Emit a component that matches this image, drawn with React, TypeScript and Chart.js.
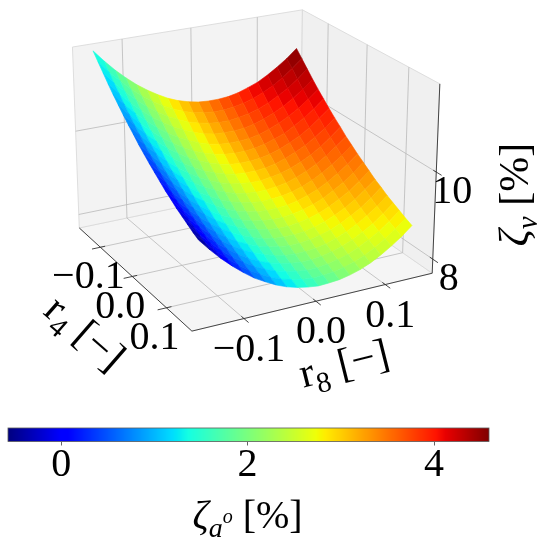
import React, { useEffect, useRef } from "react";
import { Chart, registerables } from "chart.js";

Chart.register(...registerables);

// ---------------- data ----------------
const R4 = [-0.15, -0.135, -0.12, -0.105, -0.09, -0.075, -0.06, -0.045, -0.03, -0.015, 0, 0.015, 0.03, 0.045, 0.06, 0.075, 0.09, 0.105, 0.12, 0.135, 0.15];
const R8 = [-0.15, -0.135, -0.12, -0.105, -0.09, -0.075, -0.06, -0.045, -0.03, -0.015, 0, 0.015, 0.03, 0.045, 0.06, 0.075, 0.09, 0.105, 0.12, 0.135, 0.15];

// zeta_v [%]  (rows: r4, columns: r8)
const ZETA_V = [
  [11.91, 11.64, 11.39, 11.17, 10.97, 10.8, 10.65, 10.52, 10.42, 10.35, 10.3, 10.28, 10.28, 10.3, 10.35, 10.43, 10.52, 10.65, 10.8, 10.97, 11.17],
  [11.74, 11.46, 11.22, 10.99, 10.79, 10.62, 10.47, 10.35, 10.25, 10.17, 10.13, 10.1, 10.1, 10.13, 10.18, 10.25, 10.35, 10.47, 10.62, 10.8, 11.0],
  [11.57, 11.29, 11.05, 10.82, 10.62, 10.45, 10.3, 10.18, 10.08, 10.01, 9.96, 9.93, 9.93, 9.96, 10.01, 10.08, 10.18, 10.31, 10.45, 10.63, 10.83],
  [11.4, 11.13, 10.88, 10.66, 10.46, 10.29, 10.14, 10.02, 9.92, 9.84, 9.79, 9.77, 9.77, 9.79, 9.84, 9.92, 10.02, 10.14, 10.29, 10.46, 10.66],
  [11.24, 10.97, 10.72, 10.5, 10.3, 10.13, 9.98, 9.86, 9.76, 9.68, 9.63, 9.61, 9.61, 9.63, 9.68, 9.76, 9.86, 9.98, 10.13, 10.31, 10.5],
  [11.09, 10.82, 10.57, 10.35, 10.15, 9.98, 9.83, 9.7, 9.6, 9.53, 9.48, 9.46, 9.46, 9.48, 9.53, 9.61, 9.7, 9.83, 9.98, 10.15, 10.35],
  [10.94, 10.67, 10.42, 10.2, 10.0, 9.83, 9.68, 9.56, 9.46, 9.38, 9.33, 9.31, 9.31, 9.33, 9.38, 9.46, 9.56, 9.68, 9.83, 10.01, 10.2],
  [10.8, 10.53, 10.28, 10.06, 9.86, 9.69, 9.54, 9.41, 9.32, 9.24, 9.19, 9.17, 9.17, 9.19, 9.24, 9.32, 9.42, 9.54, 9.69, 9.86, 10.06],
  [10.67, 10.39, 10.15, 9.92, 9.72, 9.55, 9.4, 9.28, 9.18, 9.1, 9.06, 9.03, 9.03, 9.06, 9.11, 9.18, 9.28, 9.4, 9.55, 9.73, 9.93],
  [10.53, 10.26, 10.01, 9.79, 9.59, 9.42, 9.27, 9.15, 9.05, 8.97, 8.92, 8.9, 8.9, 8.93, 8.97, 9.05, 9.15, 9.27, 9.42, 9.6, 9.79],
  [10.41, 10.14, 9.89, 9.67, 9.47, 9.29, 9.15, 9.02, 8.92, 8.85, 8.8, 8.77, 8.78, 8.8, 8.85, 8.92, 9.02, 9.15, 9.3, 9.47, 9.67],
  [10.29, 10.02, 9.77, 9.55, 9.35, 9.18, 9.03, 8.9, 8.8, 8.73, 8.68, 8.66, 8.66, 8.68, 8.73, 8.81, 8.9, 9.03, 9.18, 9.35, 9.55],
  [10.18, 9.9, 9.66, 9.43, 9.23, 9.06, 8.91, 8.79, 8.69, 8.61, 8.57, 8.54, 8.54, 8.57, 8.62, 8.69, 8.79, 8.92, 9.06, 9.24, 9.44],
  [10.07, 9.79, 9.55, 9.32, 9.13, 8.95, 8.8, 8.68, 8.58, 8.51, 8.46, 8.43, 8.43, 8.46, 8.51, 8.58, 8.68, 8.81, 8.95, 9.13, 9.33],
  [9.96, 9.69, 9.44, 9.22, 9.02, 8.85, 8.7, 8.58, 8.48, 8.4, 8.35, 8.33, 8.33, 8.35, 8.4, 8.48, 8.58, 8.7, 8.85, 9.03, 9.22],
  [9.87, 9.59, 9.35, 9.12, 8.92, 8.75, 8.6, 8.48, 8.38, 8.31, 8.26, 8.23, 8.23, 8.26, 8.31, 8.38, 8.48, 8.61, 8.75, 8.93, 9.13],
  [9.77, 9.5, 9.25, 9.03, 8.83, 8.66, 8.51, 8.39, 8.29, 8.21, 8.16, 8.14, 8.14, 8.16, 8.21, 8.29, 8.39, 8.51, 8.66, 8.83, 9.03],
  [9.69, 9.41, 9.17, 8.94, 8.75, 8.57, 8.42, 8.3, 8.2, 8.13, 8.08, 8.05, 8.05, 8.08, 8.13, 8.2, 8.3, 8.43, 8.57, 8.75, 8.95],
  [9.61, 9.33, 9.09, 8.86, 8.66, 8.49, 8.34, 8.22, 8.12, 8.05, 8.0, 7.97, 7.97, 8.0, 8.05, 8.12, 8.22, 8.35, 8.49, 8.67, 8.87],
  [9.53, 9.26, 9.01, 8.79, 8.59, 8.41, 8.27, 8.14, 8.04, 7.97, 7.92, 7.89, 7.9, 7.92, 7.97, 8.04, 8.14, 8.27, 8.42, 8.59, 8.79],
  [9.46, 9.19, 8.94, 8.72, 8.52, 8.34, 8.2, 8.07, 7.97, 7.9, 7.85, 7.82, 7.83, 7.85, 7.9, 7.97, 8.07, 8.2, 8.35, 8.52, 8.72],
];

// zeta_a° [%]  (colour value, rows: r4, columns: r8)
const ZETA_A = [
  [1.31, 1.55, 1.78, 2.01, 2.22, 2.43, 2.63, 2.82, 3.01, 3.18, 3.35, 3.51, 3.66, 3.81, 3.94, 4.07, 4.19, 4.3, 4.41, 4.5, 4.59],
  [1.22, 1.46, 1.69, 1.91, 2.13, 2.34, 2.54, 2.73, 2.91, 3.09, 3.26, 3.42, 3.57, 3.71, 3.85, 3.98, 4.1, 4.21, 4.31, 4.41, 4.5],
  [1.12, 1.36, 1.59, 1.82, 2.03, 2.24, 2.44, 2.63, 2.82, 2.99, 3.16, 3.32, 3.47, 3.62, 3.75, 3.88, 4.0, 4.11, 4.22, 4.31, 4.4],
  [1.03, 1.27, 1.5, 1.72, 1.94, 2.15, 2.35, 2.54, 2.72, 2.9, 3.07, 3.23, 3.38, 3.52, 3.66, 3.79, 3.91, 4.02, 4.12, 4.22, 4.31],
  [0.93, 1.17, 1.41, 1.63, 1.85, 2.05, 2.25, 2.45, 2.63, 2.81, 2.97, 3.13, 3.29, 3.43, 3.57, 3.69, 3.81, 3.93, 4.03, 4.13, 4.21],
  [0.84, 1.08, 1.31, 1.54, 1.75, 1.96, 2.16, 2.35, 2.54, 2.71, 2.88, 3.04, 3.19, 3.34, 3.47, 3.6, 3.72, 3.83, 3.94, 4.03, 4.12],
  [0.75, 0.99, 1.22, 1.44, 1.66, 1.87, 2.07, 2.26, 2.44, 2.62, 2.79, 2.95, 3.1, 3.24, 3.38, 3.51, 3.63, 3.74, 3.84, 3.94, 4.03],
  [0.65, 0.89, 1.12, 1.35, 1.56, 1.77, 1.97, 2.16, 2.35, 2.52, 2.69, 2.85, 3.0, 3.15, 3.28, 3.41, 3.53, 3.64, 3.75, 3.84, 3.93],
  [0.56, 0.8, 1.03, 1.25, 1.47, 1.68, 1.88, 2.07, 2.25, 2.43, 2.6, 2.76, 2.91, 3.05, 3.19, 3.32, 3.44, 3.55, 3.65, 3.75, 3.84],
  [0.46, 0.7, 0.94, 1.16, 1.38, 1.58, 1.78, 1.98, 2.16, 2.34, 2.5, 2.66, 2.82, 2.96, 3.1, 3.22, 3.34, 3.46, 3.56, 3.66, 3.74],
  [0.37, 0.61, 0.84, 1.07, 1.28, 1.49, 1.69, 1.88, 2.07, 2.24, 2.41, 2.57, 2.72, 2.87, 3.0, 3.13, 3.25, 3.36, 3.47, 3.56, 3.65],
  [0.28, 0.52, 0.75, 0.97, 1.19, 1.4, 1.6, 1.79, 1.97, 2.15, 2.32, 2.48, 2.63, 2.77, 2.91, 3.04, 3.16, 3.27, 3.37, 3.47, 3.56],
  [0.18, 0.42, 0.65, 0.88, 1.09, 1.3, 1.5, 1.69, 1.88, 2.05, 2.22, 2.38, 2.53, 2.68, 2.81, 2.94, 3.06, 3.17, 3.28, 3.37, 3.46],
  [0.09, 0.33, 0.56, 0.78, 1.0, 1.21, 1.41, 1.6, 1.78, 1.96, 2.13, 2.29, 2.44, 2.58, 2.72, 2.85, 2.97, 3.08, 3.18, 3.28, 3.37],
  [-0.01, 0.23, 0.47, 0.69, 0.91, 1.11, 1.31, 1.51, 1.69, 1.87, 2.03, 2.19, 2.35, 2.49, 2.63, 2.75, 2.87, 2.99, 3.09, 3.19, 3.27],
  [-0.1, 0.14, 0.37, 0.6, 0.81, 1.02, 1.22, 1.41, 1.6, 1.77, 1.94, 2.1, 2.25, 2.4, 2.53, 2.66, 2.78, 2.89, 3.0, 3.09, 3.18],
  [-0.19, 0.05, 0.28, 0.5, 0.72, 0.93, 1.13, 1.32, 1.5, 1.68, 1.85, 2.01, 2.16, 2.3, 2.44, 2.57, 2.69, 2.8, 2.9, 3.0, 3.09],
  [-0.29, -0.05, 0.18, 0.41, 0.62, 0.83, 1.03, 1.22, 1.41, 1.58, 1.75, 1.91, 2.06, 2.21, 2.34, 2.47, 2.59, 2.7, 2.81, 2.9, 2.99],
  [-0.38, -0.14, 0.09, 0.31, 0.53, 0.74, 0.94, 1.13, 1.31, 1.49, 1.66, 1.82, 1.97, 2.11, 2.25, 2.38, 2.5, 2.61, 2.71, 2.81, 2.9],
  [-0.48, -0.24, 0.0, 0.22, 0.44, 0.64, 0.84, 1.04, 1.22, 1.4, 1.56, 1.72, 1.88, 2.02, 2.16, 2.28, 2.4, 2.52, 2.62, 2.72, 2.8],
  [-0.57, -0.33, -0.1, 0.13, 0.34, 0.55, 0.75, 0.94, 1.13, 1.3, 1.47, 1.63, 1.78, 1.93, 2.06, 2.19, 2.31, 2.42, 2.53, 2.62, 2.71],
];

const R4_TICKS = [-0.1, 0.0, 0.1];
const R8_TICKS = [-0.1, 0.0, 0.1];
const ZV_TICKS = [8, 10];
const CB_TICKS = [0, 2, 4];

const R_LIM = 0.17; // axis half range for r4 and r8
const ZV_AXIS = [7.67, 11.95];

// ---------------- styling / view ----------------
const FAMILY = "Liberation Serif";
const FONT = `"${FAMILY}", "DejaVu Serif", serif`;
const VIEW = { elev: 22, azim: 28, dist: 14, scale: 133, cx: 251, cy: 159.3 };
const W = 550;
const H3D = 400;
const HCB = 140;

const ZA_MIN = Math.min(...ZETA_A.map((r) => Math.min(...r)));
const ZA_MAX = Math.max(...ZETA_A.map((r) => Math.max(...r)));

// matplotlib "jet" segment data
const JET_R = [[0, 0], [0.35, 0], [0.66, 1], [0.89, 1], [1, 0.5]];
const JET_G = [[0, 0], [0.125, 0], [0.375, 1], [0.64, 1], [0.91, 0], [1, 0]];
const JET_B = [[0, 0.5], [0.11, 1], [0.34, 1], [0.65, 0], [1, 0]];

function seg(s: number[][], t: number) {
  if (t <= s[0][0]) return s[0][1];
  for (let i = 0; i < s.length - 1; i++) {
    const [x0, y0] = s[i];
    const [x1, y1] = s[i + 1];
    if (t <= x1) return y0 + ((t - x0) / (x1 - x0)) * (y1 - y0);
  }
  return s[s.length - 1][1];
}
function jet(t: number) {
  const c = Math.max(0, Math.min(1, t));
  const r = Math.round(seg(JET_R, c) * 255);
  const g = Math.round(seg(JET_G, c) * 255);
  const b = Math.round(seg(JET_B, c) * 255);
  return `rgb(${r},${g},${b})`;
}
const norm = (v: number) => (v - ZA_MIN) / (ZA_MAX - ZA_MIN);

function project(r4: number, r8: number, z: number) {
  const u = r4 / R_LIM;
  const v = r8 / R_LIM;
  const Z = ((z - ZV_AXIS[0]) / (ZV_AXIS[1] - ZV_AXIS[0]) - 0.5) * 1.5;
  const p = (VIEW.azim * Math.PI) / 180;
  const e = (VIEW.elev * Math.PI) / 180;
  const sp = Math.sin(p), cp = Math.cos(p), se = Math.sin(e), ce = Math.cos(e);
  const xr = u * sp + v * cp;
  const yu = -u * se * cp + v * se * sp + Z * ce;
  const depth = u * ce * cp - v * ce * sp + Z * se;
  const k = VIEW.dist / (VIEW.dist - depth);
  return { x: VIEW.cx + VIEW.scale * k * xr, y: VIEW.cy - VIEW.scale * k * yu, depth };
}

type Seg = { t: string; it?: boolean; rel?: number; dy?: number };
function drawRich(ctx: CanvasRenderingContext2D, segs: Seg[], cx: number, cy: number, rot: number, size: number) {
  ctx.save();
  ctx.translate(cx, cy);
  ctx.rotate(rot);
  const fontOf = (s: Seg) => `${s.it ? "italic " : ""}${Math.round(size * (s.rel ?? 1))}px ${FONT}`;
  let total = 0;
  const widths = segs.map((s) => {
    ctx.font = fontOf(s);
    const w = ctx.measureText(s.t).width;
    total += w;
    return w;
  });
  let x = -total / 2;
  ctx.textAlign = "left";
  ctx.textBaseline = "alphabetic";
  ctx.fillStyle = "#000";
  segs.forEach((s, i) => {
    ctx.font = fontOf(s);
    ctx.fillText(s.t, x, size * 0.33 + (s.dy ?? 0) * size);
    x += widths[i];
  });
  ctx.restore();
}

const fmtR = (v: number) => (v < 0 ? "\u2212" : "") + Math.abs(v).toFixed(1);

const boxPlugin = {
  id: "box3d",
  beforeDatasetsDraw(chart: any) {
    const ctx: CanvasRenderingContext2D = chart.ctx;
    const xs = chart.scales.x;
    const ys = chart.scales.y;
    const P = (a: number, b: number, c: number) => {
      const p = project(a, b, c);
      return [xs.getPixelForValue(p.x), ys.getPixelForValue(p.y)];
    };
    const L = R_LIM;
    const [z0, z1] = ZV_AXIS;
    const poly = (pts: number[][], fill: string, stroke: string) => {
      ctx.beginPath();
      pts.forEach(([x, y], i) => (i ? ctx.lineTo(x, y) : ctx.moveTo(x, y)));
      ctx.closePath();
      ctx.fillStyle = fill;
      ctx.fill();
      ctx.strokeStyle = stroke;
      ctx.lineWidth = 0.8;
      ctx.stroke();
    };
    const line = (a: number[], b: number[], color: string, lw: number) => {
      ctx.beginPath();
      ctx.moveTo(a[0], a[1]);
      ctx.lineTo(b[0], b[1]);
      ctx.strokeStyle = color;
      ctx.lineWidth = lw;
      ctx.stroke();
    };
    ctx.save();
    // panes
    poly([P(-L, -L, z0), P(L, -L, z0), P(L, L, z0), P(-L, L, z0)], "rgb(245,245,245)", "rgb(225,225,225)");
    poly([P(-L, -L, z0), P(-L, L, z0), P(-L, L, z1), P(-L, -L, z1)], "rgb(243,243,243)", "rgb(215,215,215)");
    poly([P(-L, L, z0), P(L, L, z0), P(L, L, z1), P(-L, L, z1)], "rgb(240,240,240)", "rgb(215,215,215)");
    // grid
    const gc = "rgb(185,185,185)";
    R4_TICKS.forEach((t) => {
      line(P(t, -L, z0), P(t, L, z0), gc, 0.8);
      line(P(t, L, z0), P(t, L, z1), gc, 0.8);
    });
    R8_TICKS.forEach((t) => {
      line(P(-L, t, z0), P(L, t, z0), gc, 0.8);
      line(P(-L, t, z0), P(-L, t, z1), gc, 0.8);
    });
    ZV_TICKS.forEach((t) => {
      line(P(-L, -L, t), P(-L, L, t), gc, 0.8);
      line(P(-L, L, t), P(L, L, t), gc, 0.8);
    });
    // axis lines
    const ac = "rgb(50,50,50)";
    line(P(-L, -L, z0), P(L, -L, z0), ac, 0.9);
    line(P(L, -L, z0), P(L, L, z0), ac, 0.9);
    line(P(L, L, z0), P(L, L, z1), ac, 0.9);
    // ticks
    R4_TICKS.forEach((t) => line(P(t, -L * 0.96, z0), P(t, -L * 1.07, z0), ac, 0.9));
    R8_TICKS.forEach((t) => line(P(L * 0.96, t, z0), P(L * 1.07, t, z0), ac, 0.9));
    ZV_TICKS.forEach((t) => line(P(L * 0.96, L, t), P(L * 1.07, L, t), ac, 0.9));
    ctx.restore();
  },
  afterDatasetsDraw(chart: any) {
    const ctx: CanvasRenderingContext2D = chart.ctx;
    const meta = chart.getDatasetMeta(0);
    const n4 = R4.length, n8 = R8.length;
    const quads: { idx: number[]; d: number; c: number }[] = [];
    for (let i = 0; i < n4 - 1; i++) {
      for (let j = 0; j < n8 - 1; j++) {
        const cells = [[i, j], [i + 1, j], [i + 1, j + 1], [i, j + 1]];
        const d = cells.reduce((s, [a, b]) => s + project(R4[a], R8[b], ZETA_V[a][b]).depth, 0) / 4;
        const c = cells.reduce((s, [a, b]) => s + ZETA_A[a][b], 0) / 4;
        quads.push({ idx: cells.map(([a, b]) => a * n8 + b), d, c });
      }
    }
    quads.sort((a, b) => a.d - b.d);
    ctx.save();
    ctx.lineJoin = "round";
    quads.forEach((q) => {
      ctx.beginPath();
      q.idx.forEach((k, m) => {
        const el = meta.data[k];
        if (m === 0) ctx.moveTo(el.x, el.y);
        else ctx.lineTo(el.x, el.y);
      });
      ctx.closePath();
      const col = jet(norm(q.c));
      ctx.fillStyle = col;
      ctx.strokeStyle = col;
      ctx.lineWidth = 0.6;
      ctx.fill();
      ctx.stroke();
    });
    ctx.restore();

    // labels
    const xs = chart.scales.x;
    const ys = chart.scales.y;
    const P = (a: number, b: number, c: number) => {
      const p = project(a, b, c);
      return [xs.getPixelForValue(p.x), ys.getPixelForValue(p.y)];
    };
    const L = R_LIM;
    const [z0, z1] = ZV_AXIS;
    const TS = 40;
    R4_TICKS.forEach((t) => {
      const [x, y] = P(t, -L, z0);
      drawRich(ctx, [{ t: fmtR(t) }], x - 12, y + 28, 0, TS);
    });
    R8_TICKS.forEach((t) => {
      const [x, y] = P(L, t, z0);
      drawRich(ctx, [{ t: fmtR(t) }], x + 5, y + 29, 0, TS);
    });
    ZV_TICKS.forEach((t) => {
      const [x, y] = P(L, L, t);
      drawRich(ctx, [{ t: String(t) }], x + 16, y + 18, 0, TS);
    });
    const LS = 42;
    {
      const [x, y] = P(0, -L, z0);
      drawRich(ctx, [{ t: "r" }, { t: "4", rel: 0.7, dy: 0.22 }, { t: " [\u2212]" }], x - 47, y + 56, (41 * Math.PI) / 180, LS);
    }
    {
      const [x, y] = P(L, 0, z0);
      drawRich(ctx, [{ t: "r" }, { t: "8", rel: 0.7, dy: 0.22 }, { t: " [\u2212]" }], x + 28, y + 62, (-14 * Math.PI) / 180, LS);
    }
    {
      const [x, y] = P(L, L, (z0 + z1) / 2);
      drawRich(ctx, [{ t: "\u03b6", it: true }, { t: "v", it: true, rel: 0.7, dy: 0.22 }, { t: " [%]" }], x + 78, y + 14, -Math.PI / 2, LS);
    }
  },
};

function whenFonts(cb: () => void) {
  const fs: any = (document as any).fonts;
  if (!fs || !fs.load) return;
  Promise.all([fs.load(`40px "${FAMILY}"`), fs.load(`italic 40px "${FAMILY}"`)]).then(cb, cb);
}

function Surface3D() {
  const ref = useRef<HTMLCanvasElement>(null);
  useEffect(() => {
    const pts: { x: number; y: number }[] = [];
    R4.forEach((r4, i) =>
      R8.forEach((r8, j) => {
        const p = project(r4, r8, ZETA_V[i][j]);
        pts.push({ x: p.x, y: p.y });
      })
    );
    const chart = new Chart(ref.current as HTMLCanvasElement, {
      type: "scatter",
      data: { datasets: [{ data: pts, pointRadius: 0, pointHoverRadius: 0, showLine: false }] },
      options: {
        animation: false,
        responsive: false,
        events: [],
        layout: { padding: 0 },
        plugins: { legend: { display: false }, tooltip: { enabled: false } },
        scales: {
          x: { type: "linear", display: false, min: 0, max: W },
          y: { type: "linear", display: false, min: 0, max: H3D, reverse: true },
        },
      },
      plugins: [boxPlugin],
    } as any);
    let alive = true;
    whenFonts(() => alive && chart.update());
    return () => {
      alive = false;
      chart.destroy();
    };
  }, []);
  return <canvas ref={ref} width={W} height={H3D} style={{ display: "block" }} />;
}

const cbPlugin = {
  id: "colorbar",
  beforeDatasetsDraw(chart: any) {
    const { ctx, chartArea: a } = chart;
    const x = chart.scales.x;
    ctx.save();
    for (let px = Math.floor(a.left); px < Math.ceil(a.right); px++) {
      ctx.fillStyle = jet(norm(x.getValueForPixel(px + 0.5)));
      ctx.fillRect(px, a.top, 1, a.bottom - a.top);
    }
    ctx.strokeStyle = "rgb(90,90,90)";
    ctx.lineWidth = 0.8;
    ctx.strokeRect(a.left, a.top, a.right - a.left, a.bottom - a.top);
    ctx.restore();
  },
  afterDraw(chart: any) {
    const x = chart.scales.x;
    const cx = (x.getPixelForValue(CB_TICKS[0]) + x.getPixelForValue(CB_TICKS[CB_TICKS.length - 1])) / 2;
    drawRich(
      chart.ctx,
      [
        { t: "\u03b6", it: true },
        { t: "a", it: true, rel: 0.7, dy: 0.22 },
        { t: "o", it: true, rel: 0.5, dy: -0.12 },
        { t: " [%]" },
      ],
      cx,
      115,
      0,
      40
    );
  },
};

function ColorBar() {
  const ref = useRef<HTMLCanvasElement>(null);
  useEffect(() => {
    const chart = new Chart(ref.current as HTMLCanvasElement, {
      type: "scatter",
      data: { datasets: [{ data: [] }] },
      options: {
        animation: false,
        responsive: false,
        events: [],
        layout: { padding: { left: 8, right: 61, top: 28, bottom: 0 } },
        plugins: { legend: { display: false }, tooltip: { enabled: false } },
        scales: {
          x: {
            type: "linear",
            position: "bottom",
            min: ZA_MIN,
            max: ZA_MAX,
            afterBuildTicks: (s: any) => {
              s.ticks = CB_TICKS.map((v) => ({ value: v }));
            },
            afterFit: (s: any) => {
              s.height = 98.5;
            },
            ticks: {
              font: { family: FONT, size: 40 },
              color: "#000",
              padding: -4,
              maxRotation: 0,
              autoSkip: false,
              callback: (v: any) => String(v),
            },
            grid: { display: true, drawOnChartArea: false, drawTicks: true, tickLength: 4, color: "rgb(60,60,60)", lineWidth: 0.8 },
            border: { display: false },
          },
          y: { display: false, min: 0, max: 1 },
        },
      },
      plugins: [cbPlugin],
    } as any);
    let alive = true;
    whenFonts(() => alive && chart.update());
    return () => {
      alive = false;
      chart.destroy();
    };
  }, []);
  return <canvas ref={ref} width={W} height={HCB} style={{ display: "block" }} />;
}

export default function App() {
  return (
    <div style={{ position: "absolute", left: 0, top: 0, width: W, height: H3D + HCB, background: "#fff" }}>
      <Surface3D />
      <ColorBar />
    </div>
  );
}
